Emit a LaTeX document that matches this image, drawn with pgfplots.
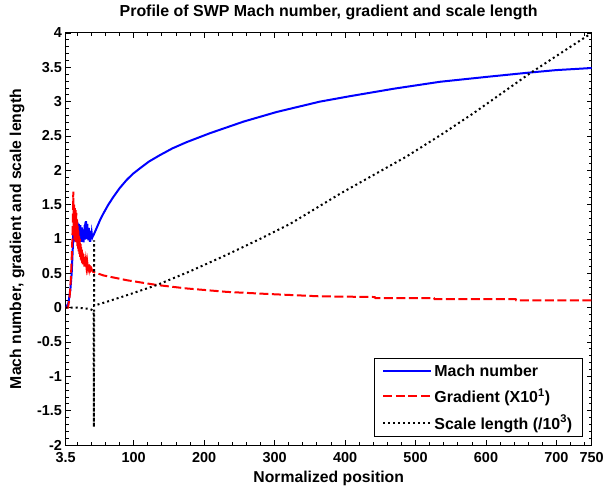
\documentclass[border=0pt]{standalone}
\usepackage{fontspec}
\setmainfont{Liberation Sans}
\usepackage{pgfplots}
\pgfplotsset{compat=1.18}
\definecolor{mblue}{RGB}{0,0,255}
\definecolor{mred}{RGB}{255,0,0}
\begin{document}
\begin{tikzpicture}
\begin{axis}[
  scale only axis,
  width=526bp, height=412bp,
  xmin=3.5, xmax=750, ymin=-2, ymax=4,
  axis line style={line width=1bp},
  tick style={line width=0.8bp, black},
  major tick length=5bp, minor tick length=3bp,
  tick align=inside,
  xtick={3.5,100,200,300,400,500,600,700,750},
  xticklabels={3.5,100,200,300,400,500,600,700,750},
  minor xtick={20,40,...,740},
  ytick={-2,-1.5,...,4},
  yticklabels={-2,-1.5,-1,-0.5,0,0.5,1,1.5,2,2.5,3,3.5,4},
  minor ytick={-2,-1.9,...,4},
  ticklabel style={font=\fontsize{14.5}{16}\selectfont\bfseries},
  xticklabel style={inner sep=0bp, yshift=-7bp},
  yticklabel style={inner sep=0bp, xshift=-3.5bp},
  title={Profile of SWP Mach number, gradient and scale length},
  every axis title/.style={font=\fontsize{16}{18}\selectfont\bfseries, at={(axis description cs:0.5,1.050)}, anchor=center},
  xlabel={Normalized position},
  xlabel style={font=\fontsize{15.8}{18}\selectfont\bfseries, at={(axis description cs:0.5,-0.082)}, anchor=center},
  ylabel={Mach number, gradient and scale length},
  ylabel style={font=\fontsize{15.8}{18}\selectfont\bfseries, at={(axis description cs:-0.0926,0.5)}, anchor=center},
  legend style={at={(axis description cs:0.983,0.0194)}, anchor=south east, draw=black, line width=1bp,
    font=\fontsize{16}{18}\selectfont\bfseries, inner xsep=8bp, inner ysep=4bp, row sep=7bp},
  legend cell align=left,
  legend image code/.code={\draw[#1] (0bp,0bp) -- (48bp,0bp);},
]
\addplot[color=mblue, line width=2bp] coordinates {
(3.5,0) (7.2,0.06) (10,0.25) (12,0.5) (13.3,0.8) (14.3,1.08) (14.8,0.95) (15.3,1.15) (15.8,0.97)
(16.3,1.22) (16.8,0.98) (17.3,1.26) (17.8,1.0) (18.3,1.25) (18.8,0.97) (19.3,1.2) (19.8,1.0)
(20.3,1.24) (20.8,0.96) (21.3,1.18) (21.8,0.99) (22.3,1.22) (22.8,1.0) (23.3,1.14) (23.8,0.97)
(24.3,1.2) (24.8,1.02) (25.3,1.15) (25.8,0.96) (26.3,1.17) (26.8,1.0) (27.3,1.12) (27.8,0.97)
(28.3,1.1) (28.8,0.95) (29.3,1.14) (29.8,1.0) (30.3,1.2) (30.8,0.99) (31.3,1.24) (31.8,1.02)
(32.3,1.26) (32.8,1.03) (33.3,1.2) (33.8,1.0) (34.3,1.22) (34.8,1.02) (35.3,1.15) (35.8,0.98)
(36.3,1.16) (36.8,1.02) (37.3,1.12) (37.8,0.96) (38.3,1.12) (38.8,1.02) (39.3,1.12) (39.8,1.0)
(40.5,1.08) (41.2,1.02) (42,1.04) (42.7,1.05) (47,1.15) (52,1.27) (56.9,1.37) (64,1.5)
(71,1.61) (80,1.74) (90,1.86) (99,1.95) (109,2.03) (122,2.13) (137,2.22) (155,2.32)
(175,2.41) (208,2.54) (256,2.71) (303,2.85) (364,3.0) (407,3.08) (470,3.19) (535,3.29)
(600,3.36) (658,3.42) (700,3.46) (750,3.49)
};
\addlegendentry{Mach number}
\addplot[color=mred, line width=2bp, dash pattern=on 9bp off 3.5bp] coordinates {
(3.5,0) (6.8,0.0) (9,0.15) (11,0.45) (12.5,0.85) (13.5,1.2) (14.3,1.69)
(15,1.05) (15.5,1.5) (16,1.0) (16.5,1.45) (17,0.98) (17.5,1.42) (18,0.96) (18.5,1.38)
(19,0.94) (19.5,1.3) (20,0.9) (20.5,1.2) (21,0.86) (21.5,1.12) (22,0.82) (22.5,1.05)
(23,0.78) (23.5,1.0) (24,0.74) (24.5,0.93) (25,0.7) (25.5,0.88) (26,0.68) (26.5,0.84)
(27,0.65) (27.5,0.8) (28,0.63) (28.5,0.78) (29,0.62) (29.5,0.74) (30,0.6) (30.5,0.72)
(31,0.6) (32,0.69) (33,0.59) (34,0.67) (35,0.58) (36,0.64) (37,0.56) (38,0.62)
(39,0.55) (40,0.57) (41,0.54) (42.7,0.52) (56.9,0.47) (90,0.40) (133,0.33) (175,0.28)
(232,0.23) (289,0.20) (364,0.165) (442,0.155) (443,0.14) (526,0.14) (527,0.125)
(642,0.125) (643,0.105) (750,0.105)
};
\addlegendentry{Gradient (X10\textsuperscript{1})}
\addplot[color=black, line width=2bp, dash pattern=on 2bp off 3bp] coordinates {
(3.5,0) (4.9,0) (20,0) (30,-0.01) (38,-0.02) (40.4,-0.03) (43,-0.05) (43.6,-1.74) (43.8,0.98)
(44,0.03) (60,0.08) (90,0.18) (133,0.33) (180,0.53) (230,0.76) (275,0.98) (322,1.22)
(364,1.48) (393,1.66) (440,1.93) (487,2.2) (535,2.51) (582,2.83) (622,3.12) (662,3.41)
(705,3.70) (750,4.0)
};
\addlegendentry{Scale length (/10\textsuperscript{3})}
\coordinate (bl) at (rel axis cs:0,0);
\end{axis}
\pgfresetboundingbox
\path (bl) ++(-65.7bp,-45bp) rectangle ++(605bp,490bp);
\end{tikzpicture}
\end{document}
